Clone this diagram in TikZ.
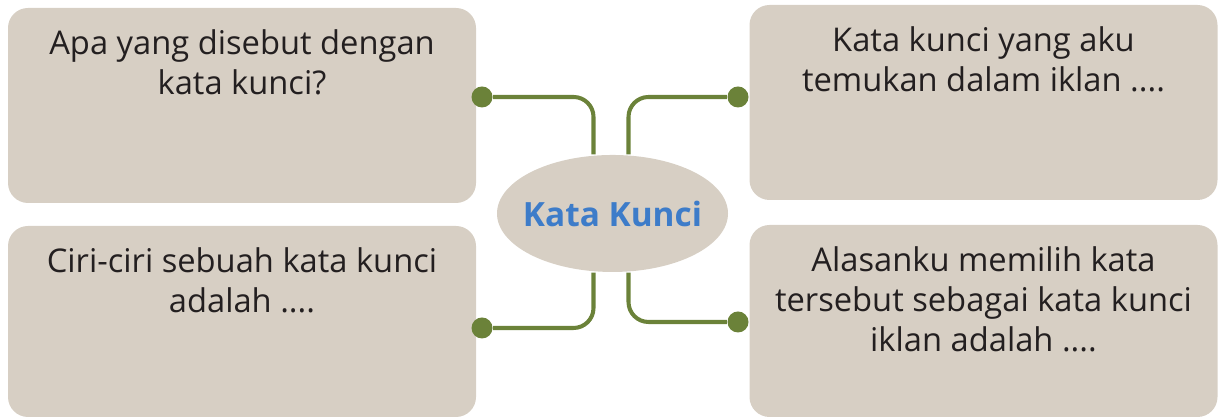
\documentclass[tikz,border=0pt]{standalone}
\usepackage{fontspec}
\setmainfont{Open Sans}
\usetikzlibrary{shapes.geometric,positioning}
\definecolor{cardfill}{HTML}{D7CFC4}
\definecolor{linkgreen}{HTML}{6B8239}
\definecolor{hubblue}{HTML}{3D7CC9}
\definecolor{inkdark}{HTML}{231F20}

\begin{document}
\begin{tikzpicture}[card/.style = {fill=cardfill, rounded corners=2mm, minimum width=4.68cm, inner sep=0pt}, cardtext/.style = {inner sep=0pt, align=center, text=inkdark, font=\fontsize{9.3}{11.4}\selectfont}, hub/.style = {ellipse, fill=cardfill, inner sep=0pt, minimum width=2.31cm, minimum height=1.17cm, text=hubblue, font=\fontsize{9.5}{11}\selectfont\bfseries}, joint/.style = {circle, fill=linkgreen, minimum size=2.1mm, inner sep=0pt}, link/.style = {draw=linkgreen, line width=1.15pt, rounded corners=2mm}]

    \useasboundingbox (0,0) rectangle (12.27,4.17);

    % cards
    \node[card, minimum height=1.95cm] (tl) at (2.42,3.115) {};
    \node[card, minimum height=1.95cm] (tr) at (9.835,3.145) {};
    \node[card, minimum height=1.91cm] (bl) at (2.42,0.955) {};
    \node[card, minimum height=1.92cm] (br) at (9.835,0.96) {};

    \node[cardtext, below=2.2mm of tl.north] (tltext) {Apa yang disebut dengan\\kata kunci?};
    \node[cardtext, below=2.2mm of tr.north] (trtext) {Kata kunci yang aku\\temukan dalam iklan ....};
    \node[cardtext, below=2.2mm of bl.north] (bltext) {Ciri-ciri sebuah kata kunci\\adalah ....};
    \node[cardtext, below=2.2mm of br.north] (brtext) {Alasanku memilih kata\\tersebut sebagai kata kunci\\iklan adalah ....};

    % centre
    \node[hub] (kunci) at (6.125,2.035) {\makebox[0pt]{Kata Kunci}};

    % links
    \node[joint] (tlj) at (4.82,3.20) {};
    \node[joint] (trj) at (7.38,3.20) {};
    \node[joint] (blj) at (4.82,0.89) {};
    \node[joint] (brj) at (7.38,0.95) {};

    \draw[link] (tlj) -| ([xshift=-1.9mm]kunci.north);
    \draw[link] (trj) -| ([xshift=1.6mm]kunci.north);
    \draw[link] (blj) -| ([xshift=-1.9mm]kunci.south);
    \draw[link] (brj) -| ([xshift=1.6mm]kunci.south);

    \end{tikzpicture}
\end{document}
